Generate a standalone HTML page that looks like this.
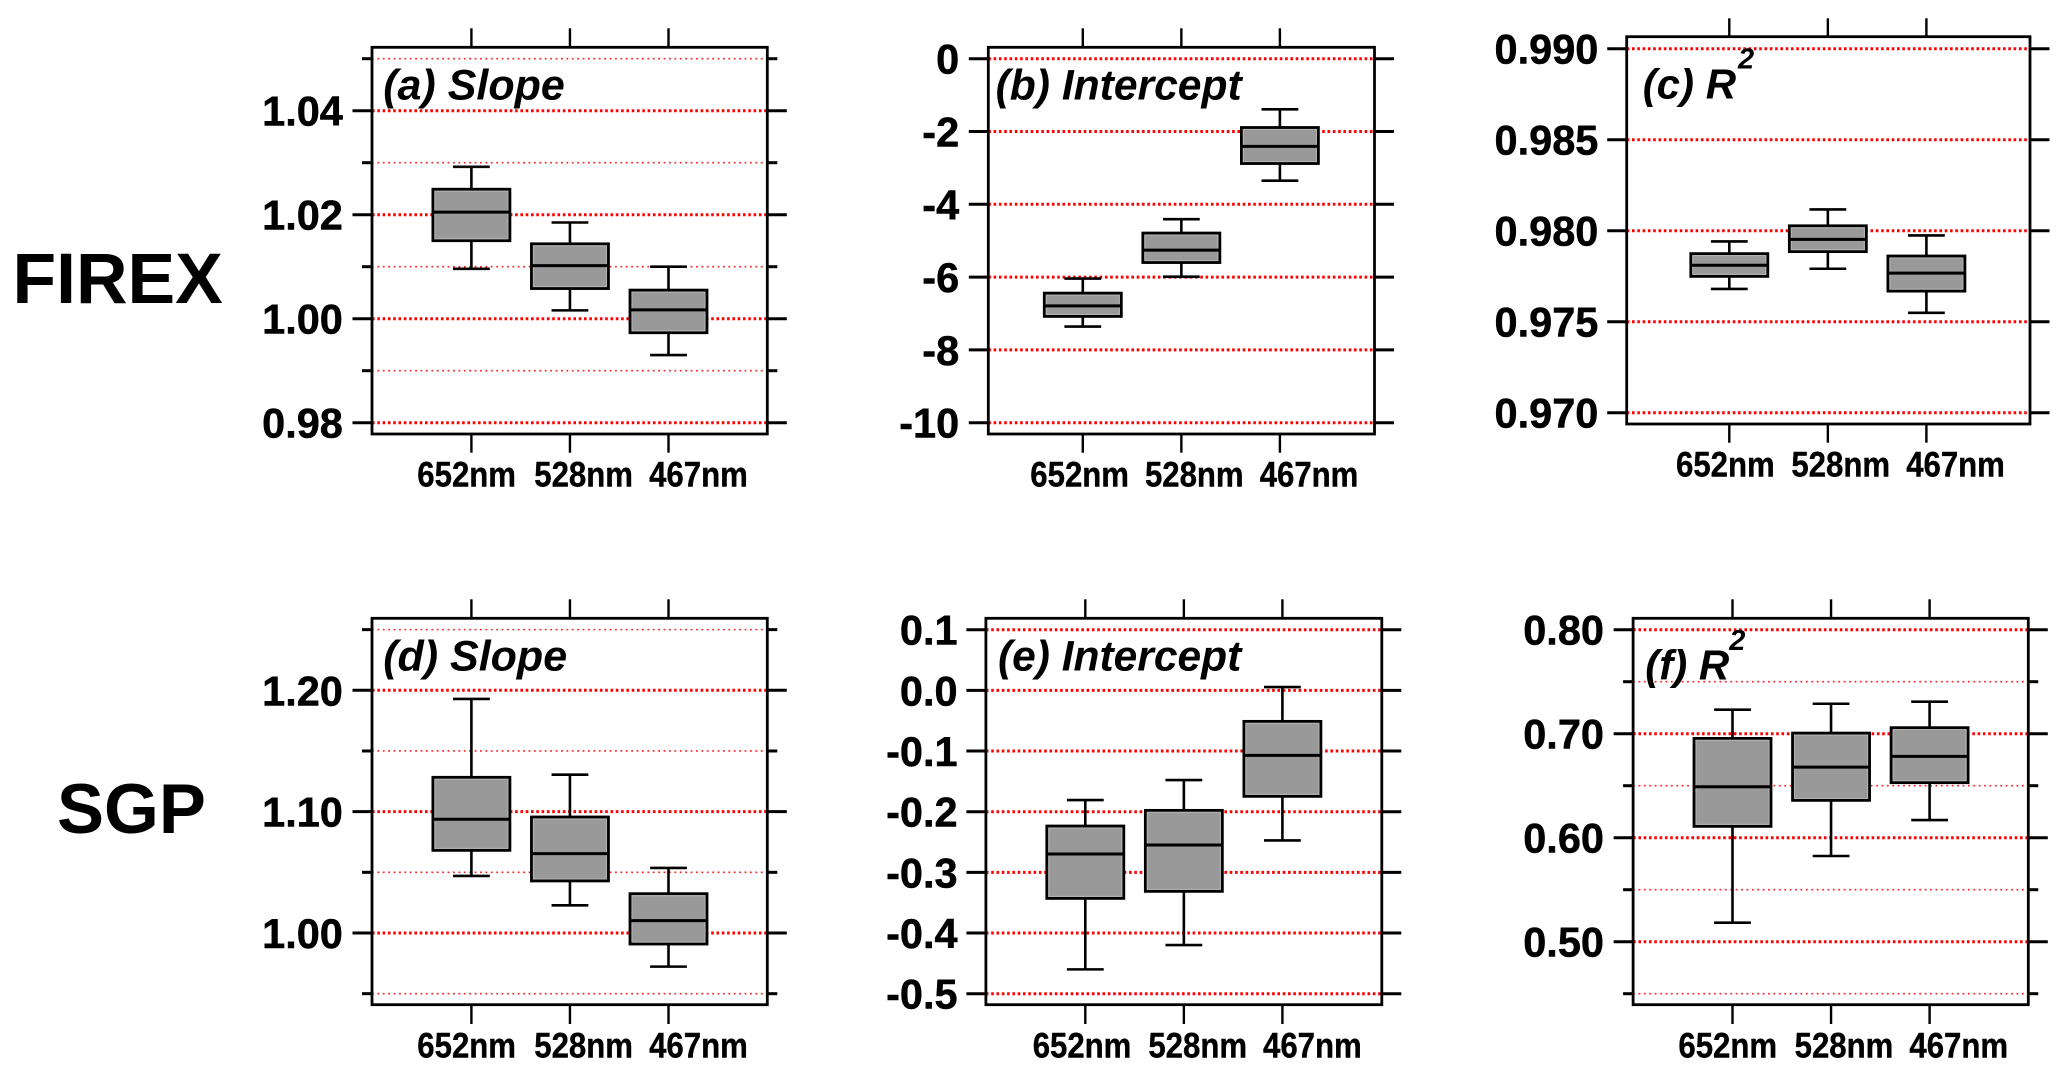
<!DOCTYPE html>
<html lang="en">
<head>
<meta charset="utf-8">
<title>FIREX and SGP regression box plots</title>
<style>
html,body{margin:0;padding:0;background:#fff;width:2067px;height:1076px;overflow:hidden}
svg{display:block}
text{font-family:"Liberation Sans",Arial,sans-serif;font-weight:bold;fill:#000}
</style>
</head>
<body>
<svg id="figure" xmlns="http://www.w3.org/2000/svg" width="2067" height="1076" viewBox="0 0 2067 1076">
  <rect x="0" y="0" width="2067" height="1076" fill="#fff"/>
  <text x="12.5" y="303" font-size="71.4">FIREX</text>
  <text x="57" y="833" font-size="70.5">SGP</text>
</svg>
<script>
const categories = ["652nm", "528nm", "467nm"];

const aHigh = [1.0292, 1.0185, 1.0100];
const aQ3 = [1.0249, 1.0144, 1.0055];
const aMedian = [1.0205, 1.0102, 1.0017];
const aQ1 = [1.0150, 1.0058, 0.9973];
const aLow = [1.0096, 1.0016, 0.9930];
const aMajorTicks = [1.04, 1.02, 1.00, 0.98];
const aTickLabels = ["1.04", "1.02", "1.00", "0.98"];
const aMinorTicks = [1.05, 1.03, 1.01, 0.99];

const bHigh = [-6.04, -4.41, -1.39];
const bQ3 = [-6.44, -4.79, -1.89];
const bMedian = [-6.79, -5.26, -2.41];
const bQ1 = [-7.08, -5.60, -2.88];
const bLow = [-7.36, -5.99, -3.35];
const bMajorTicks = [0, -2, -4, -6, -8, -10];
const bTickLabels = ["0", "-2", "-4", "-6", "-8", "-10"];
const bMinorTicks = [];

const cHigh = [0.97941, 0.98117, 0.97974];
const cQ3 = [0.97874, 0.98027, 0.97861];
const cMedian = [0.97810, 0.97952, 0.97767];
const cQ1 = [0.97749, 0.97885, 0.97668];
const cLow = [0.97680, 0.97791, 0.97549];
const cMajorTicks = [0.990, 0.985, 0.980, 0.975, 0.970];
const cTickLabels = ["0.990", "0.985", "0.980", "0.975", "0.970"];
const cMinorTicks = [];

const dHigh = [1.1929, 1.1305, 1.0536];
const dQ3 = [1.1283, 1.0956, 1.0324];
const dMedian = [1.0937, 1.0654, 1.0102];
const dQ1 = [1.0681, 1.0429, 0.9909];
const dLow = [1.0470, 1.0228, 0.9723];
const dMajorTicks = [1.20, 1.10, 1.00];
const dTickLabels = ["1.20", "1.10", "1.00"];
const dMinorTicks = [1.25, 1.15, 1.05, 0.95];

const eHigh = [-0.1808, -0.1478, 0.0055];
const eQ3 = [-0.2236, -0.1978, -0.0511];
const eMedian = [-0.2698, -0.2549, -0.1071];
const eQ1 = [-0.3429, -0.3313, -0.1747];
const eLow = [-0.4599, -0.4198, -0.2473];
const eMajorTicks = [0.1, 0.0, -0.1, -0.2, -0.3, -0.4, -0.5];
const eTickLabels = ["0.1", "0.0", "-0.1", "-0.2", "-0.3", "-0.4", "-0.5"];
const eMinorTicks = [];

const fHigh = [0.7231, 0.7288, 0.7308];
const fQ3 = [0.6955, 0.7006, 0.7058];
const fMedian = [0.6490, 0.6679, 0.6782];
const fQ1 = [0.6109, 0.6359, 0.6529];
const fLow = [0.5183, 0.5824, 0.6170];
const fMajorTicks = [0.80, 0.70, 0.60, 0.50];
const fTickLabels = ["0.80", "0.70", "0.60", "0.50"];
const fMinorTicks = [0.75, 0.65, 0.55, 0.45];

const panels = [
  {id:"a", title:"(a) Slope", sup:false, high:aHigh, q3:aQ3, med:aMedian, q1:aQ1, low:aLow, major:aMajorTicks, labels:aTickLabels, minor:aMinorTicks,
   domain:[1.04, 0.98], range:[110.7, 422.7], box:[372, 47.3, 767.3, 434], tickX:471.4, labelEnd:342.9, xBase:486.7, xOff:[-54.1,-35.7,-19.4], titleX:383.2, titleY:99.3, fs:43, tickTop:28.3, tickBottom:452.7},
  {id:"b", title:"(b) Intercept", sup:false, high:bHigh, q3:bQ3, med:bMedian, q1:bQ1, low:bLow, major:bMajorTicks, labels:bTickLabels, minor:bMinorTicks,
   domain:[0, -10], range:[58.7, 422.7], box:[988.3, 47.3, 1374.5, 434], tickX:1082.8, labelEnd:959.2, xBase:486.7, xOff:[-52.5,-36.4,-20.2], titleX:995.6, titleY:99.3, fs:42.6, tickTop:28.3, tickBottom:452.7},
  {id:"c", title:"(c) R", sup:{x:1738, y:68.7}, high:cHigh, q3:cQ3, med:cMedian, q1:cQ1, low:cLow, major:cMajorTicks, labels:cTickLabels, minor:cMinorTicks,
   domain:[0.990, 0.970], range:[48.7, 412.7], box:[1626.7, 36.7, 2030, 424], tickX:1729.3, labelEnd:1598.4, xBase:476.7, xOff:[-53.3,-36.5,-20.2], titleX:1642.7, titleY:98.3, fs:42, tickTop:18.3, tickBottom:442.7},
  {id:"d", title:"(d) Slope", sup:false, high:dHigh, q3:dQ3, med:dMedian, q1:dQ1, low:dLow, major:dMajorTicks, labels:dTickLabels, minor:dMinorTicks,
   domain:[1.20, 1.00], range:[690.3, 933], box:[372, 618.3, 767.3, 1004.7], tickX:471.4, labelEnd:342.9, xBase:1057.3, xOff:[-54.1,-35.7,-19.4], titleX:383.2, titleY:670.7, fs:43, tickTop:599.3, tickBottom:1024},
  {id:"e", title:"(e) Intercept", sup:false, high:eHigh, q3:eQ3, med:eMedian, q1:eQ1, low:eLow, major:eMajorTicks, labels:eTickLabels, minor:eMinorTicks,
   domain:[0.1, -0.5], range:[629.7, 993.7], box:[985.9, 618.3, 1381.8, 1004.7], tickX:1085.3, labelEnd:957.6, xBase:1057.3, xOff:[-52.6,-35.5,-19.4], titleX:998, titleY:670.7, fs:42.5, tickTop:599.3, tickBottom:1024},
  {id:"f", title:"(f) R", sup:{x:1729.3, y:650}, high:fHigh, q3:fQ3, med:fMedian, q1:fQ1, low:fLow, major:fMajorTicks, labels:fTickLabels, minor:fMinorTicks,
   domain:[0.80, 0.50], range:[629.7, 941.7], box:[1633.1, 618.3, 2028.3, 1004.7], tickX:1732.5, labelEnd:1604, xBase:1057.3, xOff:[-54.1,-36.4,-20.2], titleX:1645.3, titleY:679.3, fs:42, tickTop:599.3, tickBottom:1024}
];

const NS = "http://www.w3.org/2000/svg";
const figure = document.getElementById("figure");
const BAND = 98.55;
const BOX_HALF = 38.5;
const CAP_HALF = 18.4;

function shape(parent, tag, props) {
  const el = document.createElementNS(NS, tag);
  for (const k in props) el.setAttribute(k, props[k]);
  parent.appendChild(el);
  return el;
}

function seg(parent, x1, y1, x2, y2, width, extra) {
  return shape(parent, "line", Object.assign({x1:x1, y1:y1, x2:x2, y2:y2, stroke:"#000", "stroke-width":width}, extra || {}));
}

panels.forEach(function (p) {
  const yScale = function (v) {
    return p.range[0] + (v - p.domain[0]) * (p.range[1] - p.range[0]) / (p.domain[1] - p.domain[0]);
  };
  const xScale = function (i) { return p.tickX + i * BAND; };
  const [L, T, R, B] = p.box;

  const g = shape(figure, "g", {});
  
  

  p.minor.forEach(function (v) {
    const y = yScale(v);
    const line = seg(g, L, y, R, y, 1.6, {stroke:"#ff2020", "stroke-dasharray":"1.8 3.6"});
    
    
    const lt = seg(g, L - 10, y, L, y, 3);
    
    
    const rt = seg(g, R, y, R + 10, y, 3);
    
    
  });

  p.major.forEach(function (v, i) {
    const y = yScale(v);
    const line = seg(g, L, y, R, y, 3, {stroke:"#ff0000", "stroke-dasharray":"2.6 2.7"});
    
    
    const lt = seg(g, L - 19.5, y, L, y, 3);
    
    
    const rt = seg(g, R, y, R + 19.5, y, 3);
    
    
    const label = shape(g, "text", {x:p.labelEnd, y:y + 15, "font-size":41.5, "text-anchor":"end", stroke:"#000", "stroke-width":0.5});
    label.textContent = p.labels[i];
    
    
  });

  categories.forEach(function (cat, i) {
    const x = xScale(i);
    const top = seg(g, x, p.tickTop, x, T, 2.4);
    
    
    const bottom = seg(g, x, B, x, p.tickBottom, 2.4);
    
    

    const label = shape(g, "text", {transform:"translate(" + (x + p.xOff[i]) + "," + p.xBase + ") scale(0.89,1)", "font-size":35, stroke:"#000", "stroke-width":0.4});
    label.textContent = cat;
    
    

    const whisker = seg(g, x, yScale(p.high[i]), x, yScale(p.low[i]), 2.6);
    
    
    const capHigh = seg(g, x - CAP_HALF, yScale(p.high[i]), x + CAP_HALF, yScale(p.high[i]), 2.6);
    
    
    const capLow = seg(g, x - CAP_HALF, yScale(p.low[i]), x + CAP_HALF, yScale(p.low[i]), 2.6);
    
    

    const yTop = yScale(p.q3[i]);
    const yBot = yScale(p.q1[i]);
    const box = shape(g, "rect", {x:x - BOX_HALF, y:yTop, width:BOX_HALF * 2, height:yBot - yTop, fill:"#999999", stroke:"#000", "stroke-width":2.8});
    
    
    const inner = shape(g, "rect", {x:x - BOX_HALF + 2, y:yTop + 2, width:BOX_HALF * 2 - 4, height:yBot - yTop - 4, fill:"none", stroke:"#b4b4b4", "stroke-width":1});
    
    
    const med = seg(g, x - BOX_HALF, yScale(p.med[i]), x + BOX_HALF, yScale(p.med[i]), 3);
    
    
  });

  const frame = shape(g, "rect", {x:L, y:T, width:R - L, height:B - T, fill:"none", stroke:"#000", "stroke-width":2.8});
  
  

  const title = shape(g, "text", {x:p.titleX, y:p.titleY, "font-size":p.fs, "font-style":"italic"});
  title.textContent = p.title;
  
  

  if (p.sup) {
    const sup = shape(g, "text", {x:p.sup.x, y:p.sup.y, "font-size":29, "font-style":"italic"});
    sup.textContent = "2";
    
    
  }
});
</script>
</body>
</html>
